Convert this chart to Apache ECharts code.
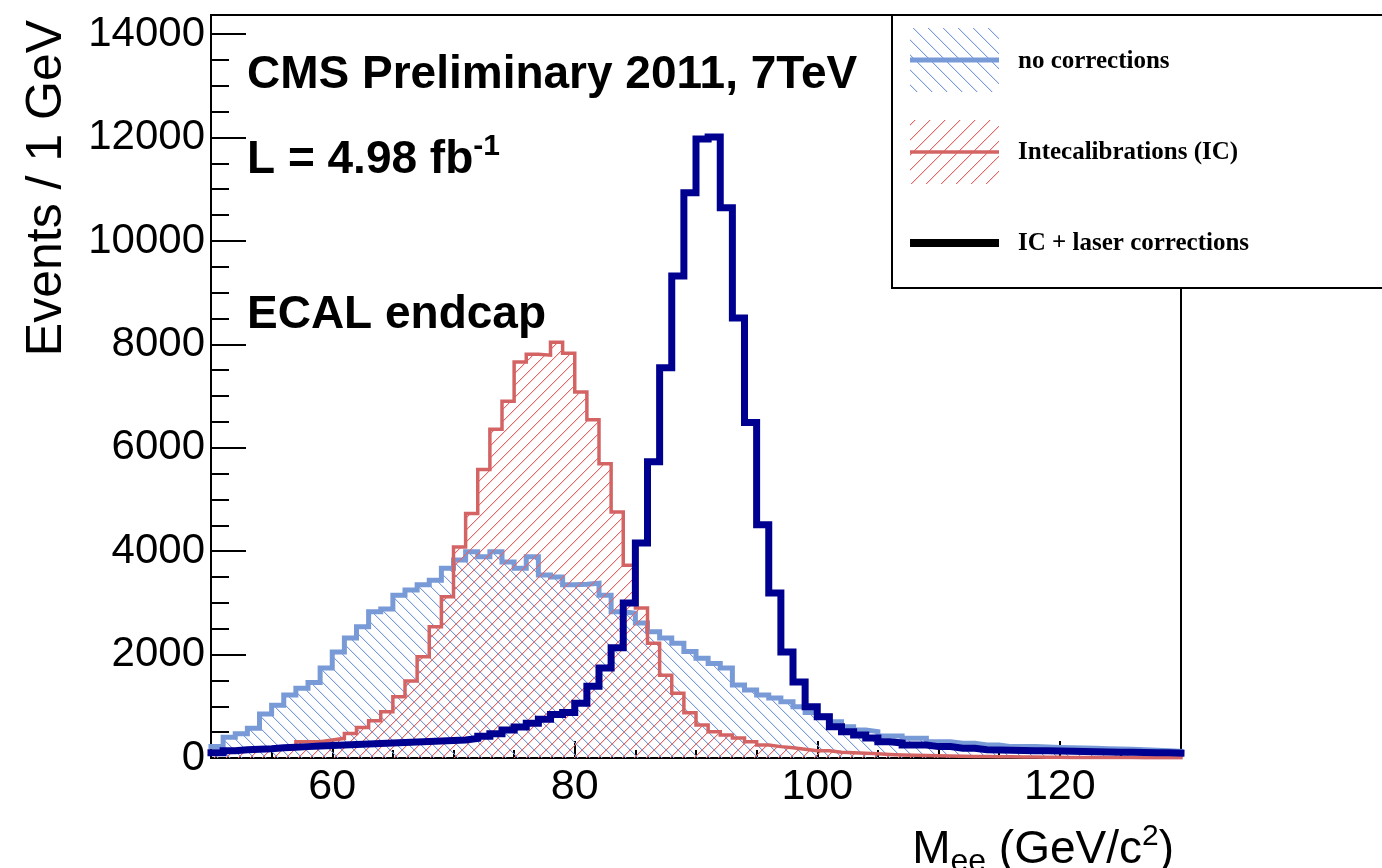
<!DOCTYPE html>
<html>
<head>
<meta charset="utf-8">
<title>ECAL endcap - Mee</title>
<script src="https://cdn.jsdelivr.net/npm/echarts@6/dist/echarts.min.js"></script>
<style>
  html, body { margin: 0; padding: 0; background: #fff; }
  #chart { width: 1382px; height: 868px; }
</style>
</head>
<body>
<div id="chart"></div>
<script>
// bin edges, 1 GeV bins from 50 to 130
const binEdges = [50, 51, 52, 53, 54, 55, 56, 57, 58, 59, 60, 61, 62, 63, 64, 65, 66, 67, 68, 69,
    70, 71, 72, 73, 74, 75, 76, 77, 78, 79, 80, 81, 82, 83, 84, 85, 86, 87, 88, 89,
    90, 91, 92, 93, 94, 95, 96, 97, 98, 99, 100, 101, 102, 103, 104, 105, 106, 107, 108, 109,
    110, 111, 112, 113, 114, 115, 116, 117, 118, 119, 120, 121, 122, 123, 124, 125, 126, 127, 128, 129, 130];

// events per bin
const noCorrections = [220, 400, 470, 575, 850, 1020, 1220, 1350, 1460, 1740,
    2050, 2320, 2540, 2830, 2880, 3150, 3250, 3350, 3440, 3670,
    3830, 3990, 3890, 3990, 3790, 3670, 3890, 3540, 3500, 3350,
    3360, 3380, 3150, 2830, 2800, 2610, 2440, 2320, 2220, 2060,
    1930, 1830, 1740, 1410, 1315, 1220, 1160, 1090, 990, 880,
    810, 700, 605, 540, 510, 425, 425, 380, 380, 315,
    315, 285, 285, 250, 250, 220, 220, 220, 215, 205,
    200, 195, 190, 180, 175, 170, 160, 150, 140, 130];
const interCalib = [110, 130, 150, 170, 190, 210, 240, 315, 315, 350,
    380, 475, 590, 720, 895, 1185, 1490, 1960, 2540, 3120,
    4080, 4730, 5580, 6360, 6900, 7660, 7810, 7790, 8040, 7830,
    7080, 6540, 5690, 4760, 3730, 2900, 2220, 1600, 1250, 875,
    640, 510, 445, 385, 315, 250, 220, 200, 170, 140,
    140, 110, 100, 90, 80, 70, 60, 55, 50, 45,
    40, 35, 30, 28, 25, 22, 20, 18, 15, 14,
    12, 11, 10, 9, 8, 8, 7, 6, 6, 5];
const icLaser = [100, 140, 160, 170, 180, 200, 210, 220, 230, 240,
    250, 260, 270, 280, 290, 300, 310, 320, 330, 340,
    350, 380, 420, 470, 540, 600, 670, 750, 840, 880,
    1060, 1390, 1740, 2130, 3000, 4160, 5730, 7550, 9320, 10930,
    11970, 12010, 10640, 8510, 6490, 4510, 3190, 2050, 1470, 990,
    800, 605, 510, 445, 385, 315, 290, 250, 250, 220,
    220, 190, 190, 160, 155, 150, 145, 140, 140, 135,
    130, 125, 120, 115, 110, 110, 105, 100, 100, 95];

// tick values
const xLabelTicks = [60, 80, 100, 120];
const xMinorTicks = [55, 60, 65, 70, 75, 80, 85, 90, 95, 100, 105, 110, 115, 120, 125];
const yLabelTicks = [0, 2000, 4000, 6000, 8000, 10000, 12000, 14000];
const yMinorTicks = [500, 1000, 1500, 2000, 2500, 3000, 3500, 4000, 4500, 5000, 5500, 6000, 6500, 7000,
    7500, 8000, 8500, 9000, 9500, 10000, 10500, 11000, 11500, 12000, 12500, 13000, 13500, 14000];

const blueCol = '#789ad6';
const redCol = '#d46464';
const navyCol = '#000090';

// hatch texture drawn pixel by pixel; tile holds two diagonals "gap" apart
function hatch(rgb, dir, gap) {
    let size = gap * 2;
    let c = document.createElement('canvas');
    c.width = size;
    c.height = size;
    let g = c.getContext('2d');
    for (let i = 0; i < size; i++) {
        let x0 = dir === '/' ? size - 1 - i : i;
        [x0, (x0 + gap) % size].forEach(x => {
            g.fillStyle = 'rgba(' + rgb + ',1)';
            g.fillRect(x, i, 1, 1);
            g.fillStyle = 'rgba(' + rgb + ',0.25)';
            g.fillRect((x + 1) % size, i, 1, 1);
        });
    }
    return { image: c, repeat: 'repeat' };
}

// histogram -> step points (value held across each bin)
function toSteps(vals) {
    return binEdges.map((x, i) => [x, vals[Math.min(i, vals.length - 1)]]);
}

let chart = echarts.init(document.getElementById('chart'));

const tickStyle = { color: '#000', width: 2 };
const sans = '"Liberation Sans", Arial, sans-serif';
const serif = '"Liberation Serif", "Times New Roman", serif';
const blueHatch = '122,155,218';
const redHatch = '232,100,100';

let option = {
    animation: false,
    backgroundColor: '#fff',
    grid: {
        left: 211, right: 201, top: 15, bottom: 110,
        show: true, borderColor: '#000', borderWidth: 2,
        containLabel: false, outerBoundsMode: 'none'
    },
    xAxis: [
        {
            type: 'value', min: 50, max: 130, position: 'bottom',
            axisLine: { show: true, onZero: false, lineStyle: tickStyle },
            axisTick: { show: true, inside: true, length: 17, customValues: xLabelTicks, lineStyle: tickStyle },
            axisLabel: { customValues: xLabelTicks, color: '#000', fontSize: 43, fontFamily: sans, margin: 8 },
            splitLine: { show: false }
        },
        {
            type: 'value', min: 50, max: 130, position: 'bottom',
            axisLine: { show: false },
            axisTick: { show: true, inside: true, length: 8, customValues: xMinorTicks, lineStyle: tickStyle },
            axisLabel: { show: false },
            splitLine: { show: false }
        }
    ],
    yAxis: [
        {
            type: 'value', min: 0, max: 14370, position: 'left',
            axisLine: { show: true, onZero: false, lineStyle: tickStyle },
            axisTick: { show: true, inside: true, length: 35, customValues: yLabelTicks, lineStyle: tickStyle },
            axisLabel: {
                customValues: yLabelTicks, color: '#000', fontSize: 42, fontFamily: sans, margin: 6,
                formatter: v => String(v)
            },
            splitLine: { show: false }
        },
        {
            type: 'value', min: 0, max: 14370, position: 'left',
            axisLine: { show: false },
            axisTick: { show: true, inside: true, length: 18, customValues: yMinorTicks, lineStyle: tickStyle },
            axisLabel: { show: false },
            splitLine: { show: false }
        }
    ],
    series: [
        {
            name: 'no corrections', type: 'line', step: 'end', symbol: 'none', data: toSteps(noCorrections), z: 2,
            color: blueCol,
            lineStyle: { color: blueCol, width: 5, cap: 'square', join: 'miter' },
            areaStyle: { color: hatch(blueHatch, '\\', 12), opacity: 1 }
        },
        {
            name: 'Intecalibrations (IC)', type: 'line', step: 'end', symbol: 'none', data: toSteps(interCalib), z: 3,
            color: redCol,
            lineStyle: { color: redCol, width: 3.5, cap: 'square', join: 'miter' },
            areaStyle: { color: hatch(redHatch, '/', 12), opacity: 1 }
        },
        {
            name: 'IC + laser corrections', type: 'line', step: 'end', symbol: 'none', data: toSteps(icLaser), z: 4,
            color: navyCol,
            lineStyle: { color: navyCol, width: 7, cap: 'square', join: 'miter' }
        }
    ],
    graphic: [
        // axis titles
        {
            type: 'text', x: 47, y: 188, rotation: Math.PI / 2,
            style: { text: 'Events / 1 GeV', font: '50px ' + sans, fill: '#000', align: 'center', verticalAlign: 'middle' }
        },
        {
            type: 'text', x: 1174, y: 850,
            style: {
                text: '{a|M}{b|ee}{a| (GeV/c}{c|2}{a|)}',
                align: 'right', verticalAlign: 'middle', fill: '#000',
                rich: {
                    a: { fontSize: 46, fontFamily: sans, lineHeight: 56, verticalAlign: 'middle' },
                    b: { fontSize: 32, fontFamily: sans, lineHeight: 24, verticalAlign: 'bottom' },
                    c: { fontSize: 30, fontFamily: sans, lineHeight: 30, verticalAlign: 'top' }
                }
            }
        },
        // annotations
        {
            type: 'text', x: 247, y: 75,
            style: { text: 'CMS Preliminary 2011, 7TeV', font: 'bold 46px ' + sans, fill: '#000', verticalAlign: 'middle' }
        },
        {
            type: 'text', x: 247, y: 160,
            style: {
                text: '{a|L = 4.98 fb}{c|-1}', fill: '#000', verticalAlign: 'middle',
                rich: {
                    a: { fontSize: 46, fontWeight: 'bold', fontFamily: sans, lineHeight: 56, verticalAlign: 'middle' },
                    c: { fontSize: 30, fontWeight: 'bold', fontFamily: sans, lineHeight: 30, verticalAlign: 'top' }
                }
            }
        },
        {
            type: 'text', x: 247, y: 315,
            style: { text: 'ECAL endcap', font: 'bold 46px ' + sans, fill: '#000', verticalAlign: 'middle' }
        },
        // legend box
        {
            type: 'rect', z: 100,
            shape: { x: 892, y: 15, width: 510, height: 273 },
            style: { fill: '#fff', stroke: '#000', lineWidth: 2 }
        },
        {
            type: 'rect', z: 101,
            shape: { x: 910, y: 28, width: 89, height: 64 },
            style: { fill: hatch(blueHatch, '\\', 15), stroke: null }
        },
        {
            type: 'line', z: 102,
            shape: { x1: 910, y1: 60, x2: 999, y2: 60 },
            style: { stroke: blueCol, lineWidth: 5 }
        },
        {
            type: 'text', z: 102, x: 1018, y: 62,
            style: { text: 'no corrections', font: 'bold 25px ' + serif, fill: '#000', verticalAlign: 'middle' }
        },
        {
            type: 'rect', z: 101,
            shape: { x: 910, y: 120, width: 89, height: 64 },
            style: { fill: hatch(redHatch, '/', 15), stroke: null }
        },
        {
            type: 'line', z: 102,
            shape: { x1: 910, y1: 152, x2: 999, y2: 152 },
            style: { stroke: redCol, lineWidth: 3.5 }
        },
        {
            type: 'text', z: 102, x: 1018, y: 153,
            style: { text: 'Intecalibrations (IC)', font: 'bold 25px ' + serif, fill: '#000', verticalAlign: 'middle' }
        },
        {
            type: 'line', z: 102,
            shape: { x1: 910, y1: 243, x2: 999, y2: 243 },
            style: { stroke: '#000', lineWidth: 8 }
        },
        {
            type: 'text', z: 102, x: 1018, y: 244,
            style: { text: 'IC + laser corrections', font: 'bold 25px ' + serif, fill: '#000', verticalAlign: 'middle' }
        }
    ]
};

chart.setOption(option);
window.addEventListener('resize', () => {
    chart.resize();
});
</script>
</body>
</html>
